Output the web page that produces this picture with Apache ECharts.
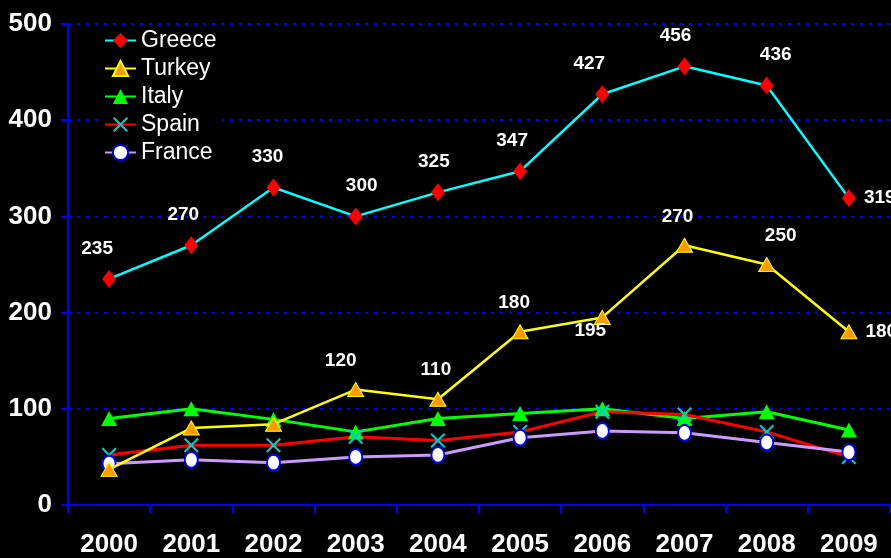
<!DOCTYPE html>
<html>
<head>
<meta charset="utf-8">
<title>Chart</title>
<style>
  html, body { margin: 0; padding: 0; background: #000; }
  #main { width: 891px; height: 558px; }
</style>
</head>
<body>
<div id="main"></div>
<script src="https://cdn.jsdelivr.net/npm/echarts@6/dist/echarts.min.js"></script>
<script>
var years = ['2000','2001','2002','2003','2004','2005','2006','2007','2008','2009'];
var greece = [235, 270, 330, 300, 325, 347, 427, 456, 436, 319];
var turkey = [37, 80, 84, 120, 110, 180, 195, 270, 250, 180];
var italy  = [90, 100, 89, 76, 90, 95, 100, 90, 97, 78];
var spain  = [52, 62, 62, 71, 67, 76, 97, 94, 76, 50];
var france = [43, 47, 44, 50, 52, 70, 77, 75, 65, 55];
var yTicks = [0, 100, 200, 300, 400, 500];

var myChart = echarts.init(document.getElementById('main'));

// label nudges, roughly like the original slide
var greeceDx = [-12, -8, -6, 6, -4, -8, -13, -9, 9, 0];
var turkeyDx = [0, 0, 0, -15, -2, -6, 0, -7, 14, 0];

function withLabels(arr, firstIdx, dx, special) {
  return arr.map(function (v, i) {
    if (i < firstIdx) return { value: v, label: { show: false } };
    var item = { value: v, label: { offset: [dx[i], 0] } };
    if (special && special[i]) item.label = special[i];
    return item;
  });
}

var xMark = 'path://M0,1L1,0L5,4L9,0L10,1L6,5L10,9L9,10L5,6L1,10L0,9L4,5Z';

var dataLabel = {
  show: true,
  position: 'top',
  distance: 12,
  color: '#fff',
  fontFamily: 'Liberation Sans, sans-serif',
  fontWeight: 'bold',
  fontSize: 19
};

var option = {
  backgroundColor: '#000',
  animation: false,
  grid: { left: 68, right: 1, top: 24, bottom: 52 },
  legend: {
    orient: 'vertical',
    left: 100,
    top: 27,
    itemWidth: 31,
    itemHeight: 19,
    itemGap: 5,
    backgroundColor: '#000',
    padding: [2, 6, 2, 4],
    textStyle: { color: '#fff', fontSize: 23, fontFamily: 'Liberation Sans, sans-serif' },
    data: ['Greece', 'Turkey', 'Italy', 'Spain', 'France']
  },
  xAxis: {
    type: 'category',
    data: years,
    boundaryGap: true,
    axisLine: { lineStyle: { color: '#0000ff', width: 2 } },
    axisTick: { show: true, length: 8, lineStyle: { color: '#0000ff', width: 2 } },
    axisLabel: { color: '#fff', fontSize: 26, fontWeight: 'bold', fontFamily: 'Liberation Sans, sans-serif', margin: 27 }
  },
  yAxis: {
    type: 'value',
    min: yTicks[0],
    max: yTicks[yTicks.length - 1],
    interval: 100,
    axisLine: { show: true, lineStyle: { color: '#0000ff', width: 2 } },
    axisTick: { show: true, length: 7, lineStyle: { color: '#0000ff', width: 2 } },
    axisLabel: { color: '#fff', fontSize: 26, fontWeight: 'bold', fontFamily: 'Liberation Sans, sans-serif', margin: 16 },
    splitLine: { show: true, lineStyle: { color: '#0000ff', width: 2, type: [3, 6] } }
  },
  series: [
    {
      name: 'Greece', type: 'line', z: 5,
      data: withLabels(greece, 0, greeceDx, { 9: { position: 'right', distance: 8 } }),
      symbol: 'diamond', symbolSize: [14, 18],
      lineStyle: { color: '#00ffff', width: 2.5 },
      itemStyle: { color: '#ff0000', borderWidth: 0 },
      label: dataLabel
    },
    {
      name: 'Turkey', type: 'line', z: 4,
      data: withLabels(turkey, 3, turkeyDx, {
        6: { position: 'bottom', offset: [-12, -5], distance: 1 },
        9: { position: 'right', distance: 8 }
      }),
      symbol: 'triangle', symbolSize: [16, 14],
      lineStyle: { color: '#ffff00', width: 2.5 },
      itemStyle: { color: '#ff9900', borderColor: '#ffff00', borderWidth: 1 },
      label: dataLabel
    },
    {
      name: 'Italy', type: 'line', z: 3,
      data: italy,
      symbol: 'triangle', symbolSize: [16, 15],
      lineStyle: { color: '#00ff00', width: 3 },
      itemStyle: { color: '#00ff00' }
    },
    {
      name: 'Spain', type: 'line', z: 3,
      data: spain,
      symbol: xMark, symbolSize: 15,
      lineStyle: { color: '#ff0000', width: 3 },
      itemStyle: { color: '#00cccc' }
    },
    {
      name: 'France', type: 'line', z: 3,
      data: france,
      symbol: 'circle', symbolSize: [13, 16],
      lineStyle: { color: '#cc99ff', width: 3 },
      itemStyle: { color: '#ffffff', borderColor: '#0000ff', borderWidth: 2 }
    }
  ]
};

myChart.setOption(option);
</script>
</body>
</html>
